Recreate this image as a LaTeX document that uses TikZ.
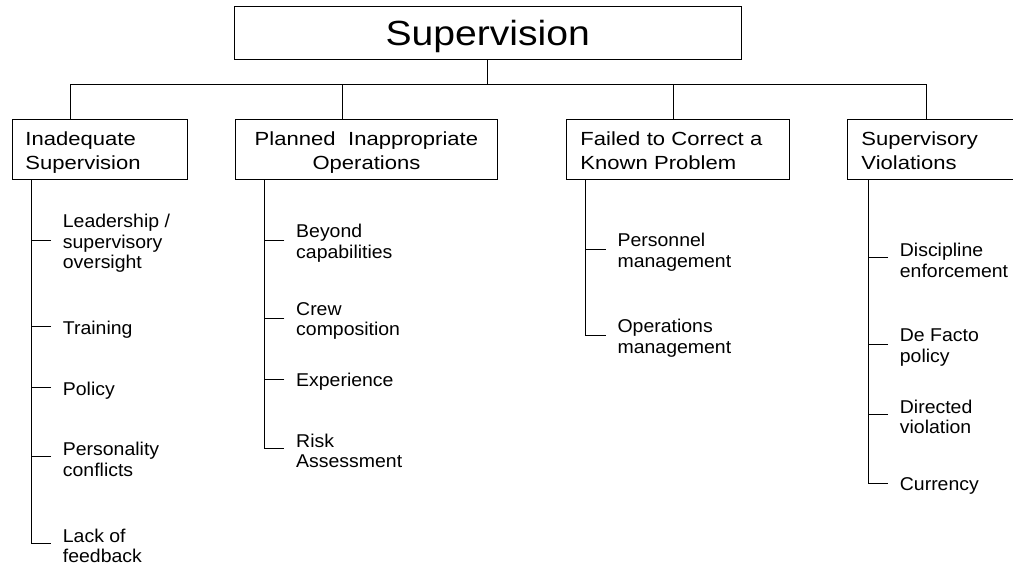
\documentclass[tikz,border=0pt]{standalone}
\usepackage{fontspec}
\setmainfont{Liberation Sans}
\newfontfamily\topfont[FakeStretch=1.12]{Liberation Sans}
\newfontfamily\boxfont[FakeStretch=1.16]{Liberation Sans}
\newfontfamily\leaffont[FakeStretch=1.05]{Liberation Sans}
\begin{document}
\begin{tikzpicture}[x=.75pt, y=-.75pt, line width=.65pt,
  catbox/.style={draw, anchor=north west, minimum height=45pt, inner ysep=0pt, inner xsep=10pt, align=left,
    text depth=16pt, font=\boxfont\fontsize{14.25}{17.7}\selectfont},
  leaf/.style={anchor=west, align=left, inner xsep=8.6pt, inner ysep=0pt,
    font=\leaffont\fontsize{13.9}{15.5}\selectfont}]
\useasboundingbox (0,0) rectangle (1013,565);
\node[draw, minimum width=379.9pt, minimum height=40pt, text depth=0pt,
  font=\topfont\fontsize{26.2}{30}\selectfont] (sup) at (487.75,32.65) {Supervision};

\node[catbox, text width=111.25pt] (ina) at (11.7,119) {Inadequate\\Supervision};
\node[catbox, text width=176.5pt, align=center] (pia) at (235,119) {Planned~ Inappropriate\\Operations};
\node[catbox, inner xsep=10.5pt, text width=146.25pt] (fcp) at (566,119) {Failed to Correct a\\Known Problem};
\node[catbox, inner xsep=10.5pt, text width=106pt] (svi) at (847,119) {Supervisory\\Violations};

\coordinate (d1) at (70,84); \coordinate (d2) at (342.3,84);
\coordinate (d3) at (673,84); \coordinate (d4) at (926.7,84);
\foreach \b/\d in {ina/d1, pia/d2, fcp/d3, svi/d4}
  \draw (sup.south) |- (\d) -- (\b.north -| \d);

% spines
\coordinate (s1) at (31,0); \coordinate (s2) at (264.3,0);
\coordinate (s3) at (585.7,0); \coordinate (s4) at (868,0);

\node[leaf] (l11) at (51,243.4) {Leadership /\\supervisory\\oversight};
\node[leaf] (l12) at (51,329.4) {Training};
\node[leaf] (l13) at (51,390.4) {Policy};
\node[leaf] (l14) at (51,459.4) {Personality\\conflicts};
\node[leaf] (l15) at (51,546) {Lack of\\feedback};

\node[leaf] (l21) at (284.3,243.4) {Beyond\\capabilities};
\node[leaf] (l22) at (284.3,321) {Crew\\composition};
\node[leaf] (l23) at (284.3,382) {Experience};
\node[leaf] (l24) at (284.3,451) {Risk\\Assessment};

\node[leaf] (l31) at (605.7,252) {Personnel\\management};
\node[leaf] (l32) at (605.7,338.4) {Operations\\management};

\node[leaf] (l41) at (888,260.4) {Discipline\\enforcement};
\node[leaf] (l42) at (888,347.4) {De Facto\\policy};
\node[leaf] (l43) at (888,416.7) {Directed\\violation};
\node[leaf] (l44) at (888,486) {Currency};

\draw (ina.south -| s1) |- ([yshift=2pt]l15.west);
\draw (pia.south -| s2) |- ([yshift=2pt]l24.west);
\draw (fcp.south -| s3) |- ([yshift=2pt]l32.west);
\draw (svi.south -| s4) |- ([yshift=2pt]l44.west);
\foreach \l/\s in {l11/s1, l12/s1, l13/s1, l14/s1, l21/s2, l22/s2, l23/s2, l31/s3, l41/s4, l42/s4, l43/s4}
  \draw ([yshift=2pt]\l.west) -- ([yshift=2pt]\l.west -| \s);
\end{tikzpicture}
\end{document}
